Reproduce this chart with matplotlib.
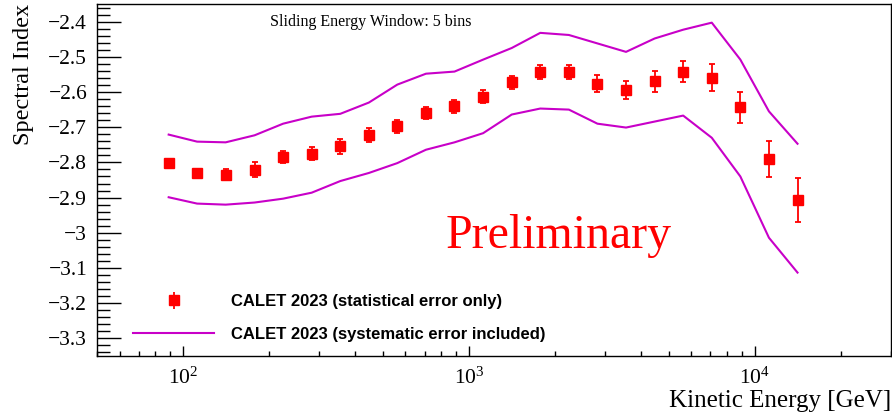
import numpy as np
import matplotlib
matplotlib.use("Agg")
from matplotlib import pyplot as plt
from matplotlib.lines import Line2D
from matplotlib.ticker import LogLocator, MultipleLocator, NullFormatter, FixedFormatter

# sliding window centres, log10(E/GeV) = 1.95 ... 4.15 in steps of 0.1
energy = [89.1, 112, 141, 178, 224, 282, 355, 447, 562, 708, 891,
          1122, 1413, 1778, 2239, 2818, 3548, 4467, 5623, 7079, 8913,
          11220, 14125]
index = [-2.802, -2.830, -2.835, -2.821, -2.785, -2.775, -2.754, -2.723,
         -2.698, -2.661, -2.641, -2.613, -2.573, -2.543, -2.543, -2.576,
         -2.594, -2.570, -2.542, -2.559, -2.644, -2.790, -2.906]
stat_err = [0.006, 0.008, 0.016, 0.021, 0.018, 0.019, 0.021, 0.020,
            0.018, 0.017, 0.018, 0.019, 0.019, 0.020, 0.020, 0.025,
            0.025, 0.030, 0.031, 0.038, 0.044, 0.051, 0.062]
syst_up = [-2.721, -2.741, -2.743, -2.723, -2.690, -2.670, -2.662, -2.630,
           -2.579, -2.548, -2.542, -2.508, -2.475, -2.432, -2.438, -2.462,
           -2.486, -2.448, -2.423, -2.403, -2.508, -2.655, -2.747]
syst_low = [-2.899, -2.917, -2.920, -2.914, -2.903, -2.886, -2.853, -2.830,
            -2.802, -2.764, -2.743, -2.717, -2.664, -2.647, -2.650, -2.690,
            -2.701, -2.684, -2.667, -2.730, -2.840, -3.014, -3.113]
yticks = [-3.3, -3.2, -3.1, -3.0, -2.9, -2.8, -2.7, -2.6, -2.5, -2.4]

red = "#ff0000"
mag = "#c800c8"
serif = ["Liberation Serif", "DejaVu Serif"]

fig = plt.figure(figsize=(8.92, 4.12), dpi=100)
ax = fig.add_axes([0.1087, 0.1359, 0.8902, 0.8544])

ax.plot(energy, syst_up, color=mag, lw=1.5)
ax.plot(energy, syst_low, color=mag, lw=1.5)
ax.errorbar(energy, index, yerr=stat_err, fmt="s", color=red, ms=6.5,
            elinewidth=1.3, capsize=2.5, capthick=1.3)

ax.set_xscale("log")
ax.set_xlim(50, 30000)

ax.set_yticks(yticks)
ax.yaxis.set_major_formatter(FixedFormatter(
    ["\u22123" if v == -3.0 else ("%.1f" % v).replace("-", "\u2212") for v in yticks]))
ax.yaxis.set_minor_locator(MultipleLocator(0.02))
ax.set_ylim(-3.35, -2.35)

ax.xaxis.set_major_locator(LogLocator(base=10))
ax.xaxis.set_minor_locator(LogLocator(base=10, subs=np.arange(2, 10)))
ax.xaxis.set_minor_formatter(NullFormatter())

ax.tick_params(axis="y", which="major", direction="in", length=17, width=1, pad=7,
               labelsize=15.5)
ax.tick_params(axis="y", which="minor", direction="in", length=9, width=1)
ax.tick_params(axis="x", which="major", direction="in", length=7, width=1, pad=8,
               labelsize=15.5)
ax.tick_params(axis="x", which="minor", direction="in", length=3.5, width=1)
for lab in ax.get_xticklabels() + ax.get_yticklabels():
    lab.set_family(serif)
for s in ax.spines.values():
    s.set_linewidth(1.0)

ax.set_ylabel("Spectral Index", fontsize=17.5, family=serif, loc="top", labelpad=10)
fig.text(0.999, 0.0, "Kinetic Energy [GeV]", ha="right", va="bottom",
         fontsize=18, family=serif)

ax.text(0.218, 0.948, "Sliding Energy Window: 5 bins", transform=ax.transAxes,
        fontsize=11.5, family=serif, va="center")
ax.text(0.4395, 0.34, "Preliminary", transform=ax.transAxes, color=red,
        fontsize=34.5, family=serif, va="center")

h1 = ax.errorbar([], [], yerr=[], fmt="s", color=red, ms=6.5, elinewidth=1.3)
h2 = Line2D([], [], color=mag, lw=1.5)
ax.legend([h1, h2], ["CALET 2023 (statistical error only)",
                     "CALET 2023 (systematic error included)"],
          loc="upper left", bbox_to_anchor=(0.045, 0.176), frameon=False,
          borderpad=0, borderaxespad=0, handlelength=4.9, handletextpad=1.0,
          labelspacing=1.07, prop={"family": "Liberation Sans", "weight": "bold",
                                   "size": 12})

fig.savefig("out.png", dpi=100)
